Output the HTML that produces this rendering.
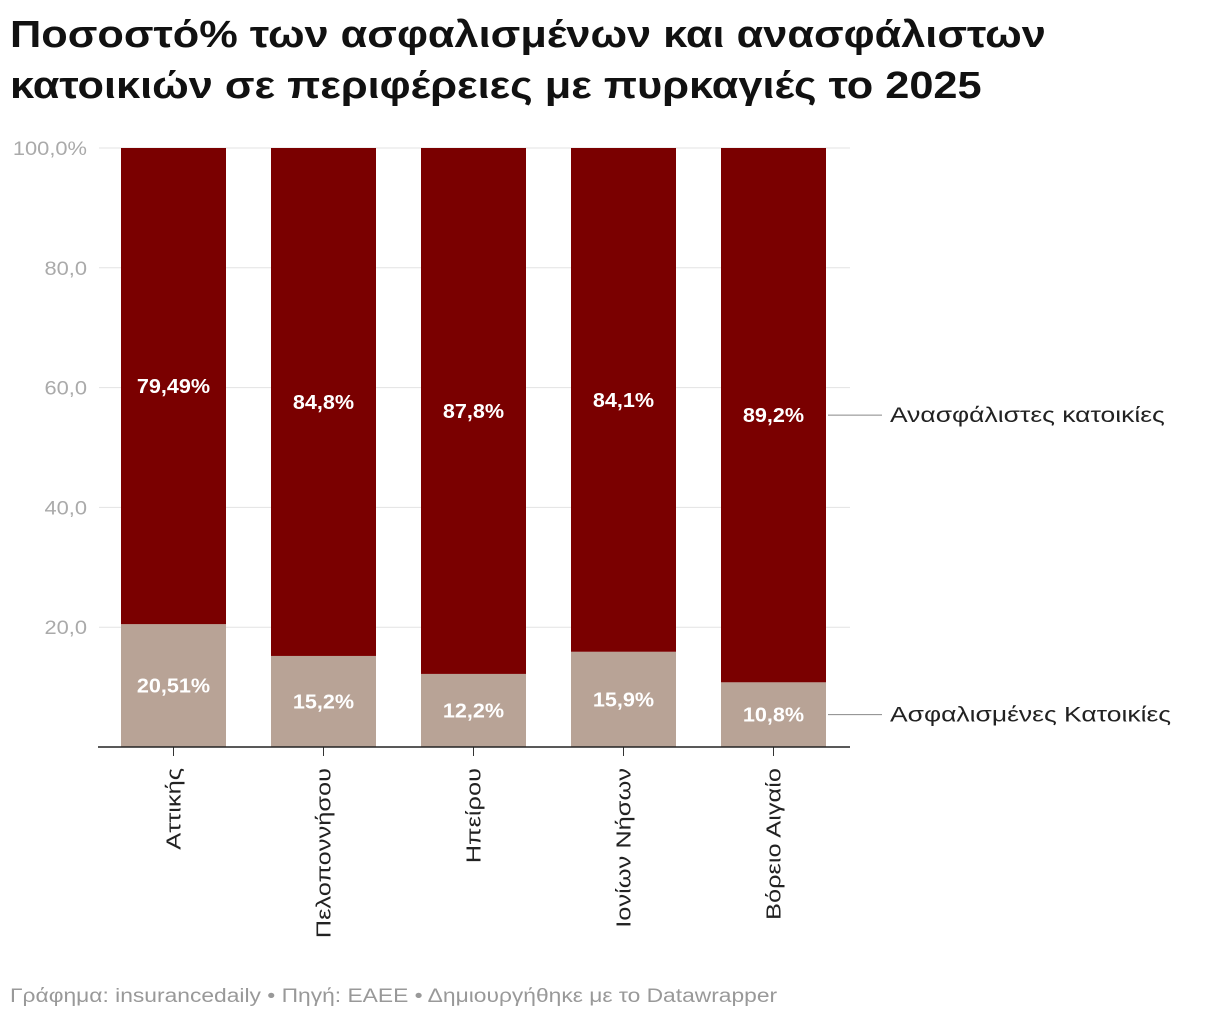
<!DOCTYPE html>
<html><head><meta charset="utf-8"><style>
body{margin:0;background:#fff;width:1220px;height:1022px;overflow:hidden;font-family:"Liberation Sans","DejaVu Sans",sans-serif}
h1{position:absolute;left:10px;top:10px;margin:0;font-size:38px;line-height:51px;font-weight:bold;color:#111;transform-origin:0 0;transform:scaleX(1.14);white-space:nowrap}
#foot{position:absolute;left:10px;top:986px;font-size:19px;color:#999;transform-origin:0 0;transform:scaleX(1.2);white-space:nowrap}
</style></head><body>
<h1>Ποσοστό% των ασφαλισμένων και ανασφάλιστων<br>κατοικιών σε περιφέρειες με πυρκαγιές το 2025</h1>
<svg id="chart" width="1220" height="1022" style="position:absolute;left:0;top:0"></svg>
<div id="foot">Γράφημα: insurancedaily • Πηγή: ΕΑΕΕ • Δημιουργήθηκε με το Datawrapper</div>
<script>
const categories=["Αττικής","Πελοποννήσου","Ηπείρου","Ιονίων Νήσων","Βόρειο Αιγαίο"];
const insured=[20.51,15.2,12.2,15.9,10.8];
const uninsured=[79.49,84.8,87.8,84.1,89.2];
const insuredLabels=["20,51%","15,2%","12,2%","15,9%","10,8%"];
const uninsuredLabels=["79,49%","84,8%","87,8%","84,1%","89,2%"];
const ticks=[0,20,40,60,80,100];
const tickLabels=["","20,0","40,0","60,0","80,0","100,0%"];
const svg=document.getElementById('chart');const NS="http://www.w3.org/2000/svg";
function y(v){return 747-v*5.99;}
function x(i){return 121+i*150;}
const bw=105;
function mk(t,a,p){const e=document.createElementNS(NS,t);for(const k in a)e.setAttribute(k,a[k]);(p||svg).appendChild(e);return e;}
function stretch(el,f){const w=el.getComputedTextLength();if(w>0){el.setAttribute('textLength',w*f);el.setAttribute('lengthAdjust','spacingAndGlyphs');}}
ticks.forEach((t,i)=>{
 if(t>0){const g=mk('line',{x1:99,x2:850,y1:y(t),y2:y(t),stroke:'#e3e3e3','stroke-width':1});
 }
 const tx=mk('text',{x:87,y:y(t)+7,'text-anchor':'end','font-size':19,fill:'#aaa'});tx.textContent=tickLabels[i];
 
 stretch(tx,1.15);
});
categories.forEach((c,i)=>{
 const r1=mk('rect',{x:x(i),y:y(insured[i]),width:bw,height:y(0)-y(insured[i]),fill:'#b8a396'});
 
 const top=insured[i]+uninsured[i];
 const r2=mk('rect',{x:x(i),y:y(top),width:bw,height:y(insured[i])-y(top),fill:'#7a0000'});
 
 const l1=mk('text',{x:x(i)+bw/2,y:y(insured[i]/2)+7,'text-anchor':'middle','font-size':20,'font-weight':'bold',fill:'#fff'});
 l1.textContent=insuredLabels[i];
 stretch(l1,1.08);
 const l2=mk('text',{x:x(i)+bw/2,y:y(insured[i]+uninsured[i]/2)+7,'text-anchor':'middle','font-size':20,'font-weight':'bold',fill:'#fff'});
 l2.textContent=uninsuredLabels[i];
 stretch(l2,1.08);
 const cx=x(i)+bw/2;
 const tk=mk('line',{x1:cx,x2:cx,y1:747,y2:756,stroke:'#333'});
 
 const cl=mk('text',{x:0,y:0,'text-anchor':'end','font-size':20,fill:'#222',transform:`translate(${cx+7},768) rotate(-90)`});
 cl.textContent=c;
 stretch(cl,1.27);
});
const ax=mk('line',{x1:98,x2:850,y1:747,y2:747,stroke:'#222','stroke-width':1.5});

const n=categories.length-1;
const legY=[y(insured[n]+uninsured[n]/2),y(insured[n]/2)];
const legT=["Ανασφάλιστες κατοικίες","Ασφαλισμένες Κατοικίες"];
legY.forEach((ly,k)=>{
 const l=mk('line',{x1:828,x2:882,y1:ly,y2:ly,stroke:'#888'});
 
 const t=mk('text',{x:890,y:ly+7,'font-size':21,fill:'#222'});t.textContent=legT[k];
 
 stretch(t,1.26);
});
</script>
</body></html>
